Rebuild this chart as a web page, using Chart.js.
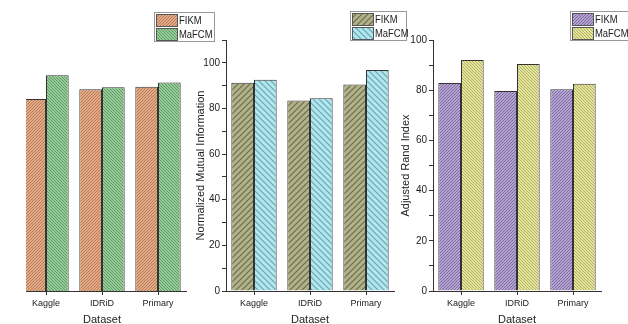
<!DOCTYPE html>
<html>
<head>
<meta charset="utf-8">
<script src="https://cdn.jsdelivr.net/npm/chart.js@4.4.1/dist/chart.umd.min.js"></script>
<style>
    body { margin: 0; background: #fff; }
    #stage { position: relative; width: 628px; height: 324px; overflow: hidden; }
    canvas { position: absolute; top: 0; }
</style>
</head>
<body>
<div id="stage">
    <div style="position:absolute;left:26px;top:0;width:200px;height:324px;overflow:hidden">
        <canvas id="accChart" width="198" height="324" style="left:-8px"></canvas>
    </div>
    <canvas id="nmiChart" width="220" height="324" style="left:190px"></canvas>
    <canvas id="ariChart" width="229" height="324" style="left:399px"></canvas>
</div>
<script>
const categories = ['Kaggle', 'IDRiD', 'Primary'];
const seriesNames = ['FIKM', 'MaFCM'];

// first panel (y axis cut off in the source figure)
const accFIKM = [84.1, 88.4, 89.5];
const accMaFCM = [94.6, 89.3, 91.4];
// Normalized Mutual Information
const nmiFIKM = [91.3, 83.5, 90.5];
const nmiMaFCM = [92.6, 84.5, 96.8];
// Adjusted Rand Index
const ariFIKM = [82.9, 79.7, 80.4];
const ariMaFCM = [92.0, 90.4, 82.6];

const yTickValues = [0, 20, 40, 60, 80, 100];

const sans = "'Liberation Sans', Arial, sans-serif";
Chart.defaults.font.family = sans;
Chart.defaults.color = '#222';

// striped fill, like the Origin hatch patterns
function hatch(bg, line, size, dir, lw) {
    const c = document.createElement('canvas');
    c.width = size; c.height = size;
    const x = c.getContext('2d');
    x.fillStyle = bg;
    x.fillRect(0, 0, size, size);
    x.strokeStyle = line;
    x.lineWidth = lw;
    x.beginPath();
    if (dir === '/') {
        x.moveTo(-1, size + 1); x.lineTo(size + 1, -1);
        x.moveTo(-1, 1); x.lineTo(1, -1);
        x.moveTo(size - 1, size + 1); x.lineTo(size + 1, size - 1);
    } else {
        x.moveTo(-1, -1); x.lineTo(size + 1, size + 1);
        x.moveTo(size - 1, -1); x.lineTo(size + 1, 1);
        x.moveTo(-1, size - 1); x.lineTo(1, size + 1);
    }
    x.stroke();
    return x.createPattern(c, 'repeat');
}

const boxLegend = {
    id: 'boxLegend',
    afterDraw(chart, args, opts) {
        const ctx = chart.ctx;
        ctx.save();
        ctx.fillStyle = '#fff';
        ctx.fillRect(opts.x, opts.y, opts.w, 29);
        ctx.strokeStyle = '#999';
        ctx.lineWidth = 1;
        ctx.strokeRect(opts.x + 0.5, opts.y + 0.5, opts.w, 29);
        chart.data.datasets.forEach(function(ds, i) {
            const py = opts.y + 2 + i * 14;
            ctx.fillStyle = ds.backgroundColor;
            ctx.fillRect(opts.x + 2, py, 21, 12);
            ctx.strokeStyle = '#555';
            ctx.strokeRect(opts.x + 2.5, py + 0.5, 21, 12);
            // squeezed text, the source figure is narrow
            ctx.save();
            ctx.translate(opts.x + 25, py + 7);
            ctx.scale(0.82, 1);
            ctx.fillStyle = '#222';
            ctx.font = '11.5px ' + sans;
            ctx.textBaseline = 'middle';
            ctx.fillText(ds.label, 0, 0);
            ctx.restore();
        });
        ctx.restore();
    }
};

function makeChart(id, values, fills, cfg) {
    const ctx = document.getElementById(id).getContext('2d');
    return new Chart(ctx, {
        type: 'bar',
        data: {
            labels: categories,
            datasets: values.map(function(v, i) {
                return {
                    label: seriesNames[i],
                    data: v,
                    backgroundColor: fills[i],
                    borderColor: '#333',
                    borderWidth: 1,
                    categoryPercentage: 0.81,
                    barPercentage: 1
                };
            })
        },
        plugins: [boxLegend],
        options: {
            responsive: false,
            animation: false,
            devicePixelRatio: 1,
            layout: { padding: { top: 40, right: cfg.padRight, left: 0, bottom: 0 } },
            plugins: {
                legend: { display: false },
                tooltip: { enabled: false },
                boxLegend: cfg.legend
            },
            scales: {
                x: {
                    grid: { drawOnChartArea: false, offset: false, tickLength: 4, color: '#333' },
                    border: { color: '#333', width: 1 },
                    ticks: { font: { size: 9 }, padding: 3, maxRotation: 0, color: '#222' },
                    title: {
                        display: true, text: 'Dataset', color: '#222',
                        font: { size: 11, lineHeight: 0.7 }, padding: { top: 0, bottom: 0 }
                    },
                    afterFit: function(s) { s.height = 33; }
                },
                y: {
                    display: cfg.showY,
                    min: 0,
                    max: cfg.max,
                    afterBuildTicks: function(s) {
                        s.ticks = [];
                        for (let v = 0; v <= cfg.max; v += 10) s.ticks.push({ value: v });
                    },
                    ticks: {
                        autoSkip: false, padding: 2, color: '#222', font: { size: 10 },
                        callback: function(v) { return yTickValues.includes(v) ? v : ''; }
                    },
                    grid: { drawOnChartArea: false, tickLength: 4, color: '#333' },
                    border: { color: '#333', width: 1 },
                    title: {
                        display: true, text: cfg.yTitle || '', color: '#222',
                        font: { size: 11 },
                        padding: { top: cfg.titlePad || 0, bottom: 0 }
                    },
                    afterFit: function(s) { s.width = cfg.yWidth || 0; }
                }
            }
        }
    });
}

document.addEventListener('DOMContentLoaded', function() {
    makeChart('accChart', [accFIKM, accMaFCM], [
        hatch('#e2aa86', '#b87c58', 3, '/', 1),
        hatch('#96cc98', '#5f9a64', 3, '\\', 1)
    ], { showY: false, max: 110, padRight: 30, legend: { x: 136, y: 12, w: 60 } });

    makeChart('nmiChart', [nmiFIKM, nmiMaFCM], [
        hatch('#b2b28a', '#6c6c4a', 6, '/', 1.2),
        hatch('#b0e6ee', '#6aa6b2', 6, '\\', 1.2)
    ], { showY: true, max: 110, padRight: 16, yWidth: 36, titlePad: 4,
         yTitle: 'Normalized Mutual Information', legend: { x: 160, y: 11, w: 56 } });

    makeChart('ariChart', [ariFIKM, ariMaFCM], [
        hatch('#b4a3d2', '#7e6c9e', 3, '/', 1),
        hatch('#e4e49c', '#b2b264', 3, '\\', 1)
    ], { showY: true, max: 100, padRight: 27, yWidth: 34, titlePad: 0,
         yTitle: 'Adjusted Rand Index', legend: { x: 171, y: 11, w: 58 } });
});
</script>
</body>
</html>
